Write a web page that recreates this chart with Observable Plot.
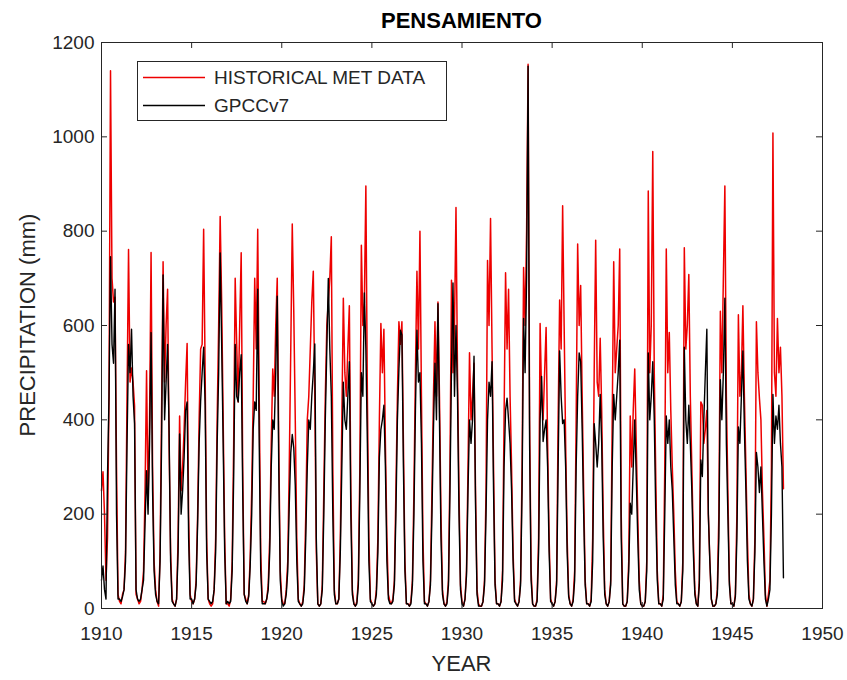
<!DOCTYPE html>
<html><head><meta charset="utf-8">
<script src="https://cdn.jsdelivr.net/npm/d3@7"></script>
<script src="https://cdn.jsdelivr.net/npm/@observablehq/plot@0.6"></script>
<style>html,body{margin:0;padding:0;background:#fff;} svg{display:block;}</style>
</head><body><div id="chart"></div>
<script>
const title = "PENSAMIENTO";
const xLabel = "YEAR";
const yLabel = "PRECIPITATION (mm)";
const seriesNames = ["HISTORICAL MET DATA", "GPCCv7"];
const seriesColors = ["#ee0000", "#000000"];
const xTicks = [1910, 1915, 1920, 1925, 1930, 1935, 1940, 1945, 1950];
const yTicks = [0, 200, 400, 600, 800, 1000, 1200];
const startYear = 1910; // monthly values, Jan 1910 onwards

const historical = [
  250,290,200,60,150,450,1140,700,650,660,300,30,      // 1910
  15,10,30,40,120,450,761,480,510,480,430,30,          // 1911
  20,10,15,40,80,250,504,223,400,755,300,100,          // 1912
  40,15,5,120,420,735,480,600,677,350,120,20,          // 1913
  10,5,20,150,408,250,300,380,480,562,200,30,          // 1914
  15,10,20,60,200,400,550,560,804,500,150,20,          // 1915
  10,5,10,40,150,400,600,831,650,400,150,10,           // 1916
  10,5,20,100,350,700,560,438,600,754,300,30,          // 1917
  20,10,30,108,250,450,700,550,804,450,120,15,         // 1918
  15,10,20,50,150,350,508,450,600,700,350,80,          // 1919
  20,10,10,40,100,300,550,815,630,400,150,20,          // 1920
  10,5,15,50,200,400,450,550,650,715,450,120,          // 1921
  10,5,10,50,250,450,600,650,700,788,300,40,           // 1922
  10,10,20,150,400,658,500,450,550,642,250,40,         // 1923
  10,5,15,60,300,770,600,650,896,450,150,20,           // 1924
  10,5,10,40,150,400,604,500,592,350,150,30,           // 1925
  15,10,20,60,250,450,608,560,608,350,100,10,          // 1926
  10,5,15,60,250,500,715,550,800,450,150,15,           // 1927
  10,5,15,60,250,450,608,450,650,450,200,40,           // 1928
  10,5,15,60,300,696,500,600,850,500,250,50,           // 1929
  15,5,20,80,300,542,400,450,520,250,40,10,            // 1930
  5,5,15,60,250,738,600,827,550,300,60,10,             // 1931
  10,5,15,80,400,712,550,677,450,300,120,20,           // 1932
  10,5,15,60,300,723,600,800,1154,400,80,10,           // 1933
  5,5,20,150,604,450,400,500,596,350,150,20,           // 1934
  10,5,15,60,400,654,550,854,600,350,150,30,           // 1935
  10,5,20,80,400,773,600,685,450,250,60,10,            // 1936
  10,5,20,150,500,781,480,450,573,420,200,40,          // 1937
  10,5,15,60,400,735,500,550,600,762,200,10,           // 1938
  5,5,15,100,408,300,420,508,350,200,60,10,            // 1939
  5,5,15,100,885,500,600,969,500,280,80,10,            // 1940
  10,5,30,300,762,500,585,420,300,200,80,15,           // 1941
  10,5,15,100,765,550,600,708,450,300,150,40,          // 1942
  10,5,60,438,431,350,380,420,200,100,20,5,            // 1943
  5,10,40,200,630,500,700,896,450,250,60,10,           // 1944
  10,5,30,200,623,450,500,642,450,300,150,30,          // 1945
  10,5,20,150,608,500,446,400,250,150,30,5,            // 1946
  30,60,300,1008,500,450,615,500,554,450,254           // 1947
];

const gpcc = [
  60,90,40,20,280,450,746,560,520,677,200,20,          // 1910
  20,15,25,40,100,350,560,500,592,450,392,40,          // 1911
  20,15,20,40,60,180,292,200,350,585,250,80,           // 1912
  30,15,10,100,350,707,400,480,560,377,100,15,         // 1913
  10,5,20,120,370,200,250,320,420,438,150,20,          // 1914
  20,10,20,50,180,350,440,500,554,430,120,20,          // 1915
  15,10,15,40,120,350,500,754,560,350,120,10,          // 1916
  15,10,15,80,280,560,450,438,500,538,250,30,          // 1917
  15,10,25,90,200,380,438,420,677,350,80,10,           // 1918
  10,10,20,40,120,300,400,380,500,662,300,60,          // 1919
  15,5,10,30,80,220,330,369,340,260,100,15,            // 1920
  10,5,10,40,150,300,400,380,450,500,561,150,          // 1921
  10,5,10,40,200,400,550,700,550,450,200,30,           // 1922
  10,10,20,120,300,480,400,380,450,523,200,30,         // 1923
  10,5,10,50,250,500,450,669,550,350,100,15,           // 1924
  10,5,10,30,120,320,380,400,431,300,100,20,           // 1925
  10,10,15,50,200,400,508,590,580,300,80,10,           // 1926
  10,5,10,50,200,420,590,480,500,350,100,10,           // 1927
  10,5,15,50,200,380,520,400,646,400,150,30,           // 1928
  10,5,10,50,250,508,690,450,600,450,200,40,           // 1929
  10,5,20,70,250,400,350,400,535,220,30,5,             // 1930
  5,5,15,50,200,400,480,450,523,250,50,10,             // 1931
  10,5,15,60,300,420,446,400,350,250,100,15,           // 1932
  10,5,15,50,250,615,500,700,1150,350,60,10,           // 1933
  5,5,15,120,400,492,354,380,400,300,120,15,           // 1934
  10,5,15,50,300,546,450,392,400,300,120,25,           // 1935
  10,5,15,60,300,450,542,523,380,200,50,10,            // 1936
  10,5,15,100,392,350,300,350,454,350,150,30,          // 1937
  10,5,15,50,300,454,400,450,500,569,150,10,           // 1938
  5,5,15,80,223,200,300,400,280,150,40,10,             // 1939
  5,5,15,80,542,400,450,523,400,200,60,10,             // 1940
  10,5,20,200,408,350,400,300,250,150,50,10,           // 1941
  10,5,15,80,554,400,350,431,350,250,120,30,           // 1942
  10,5,50,315,280,400,500,592,200,100,20,5,            // 1943
  5,10,30,150,485,400,500,658,350,200,50,10,           // 1944
  10,5,25,150,385,350,450,546,380,250,100,20,          // 1945
  10,5,20,120,331,300,246,300,200,100,20,5,            // 1946
  20,40,200,454,350,408,380,431,350,300,65             // 1947
];

const rows = [];
historical.forEach((v, i) => rows.push({series: seriesNames[0], t: startYear + i / 12, v}));
gpcc.forEach((v, i) => rows.push({series: seriesNames[1], t: startYear + i / 12, v}));

const W = 847, H = 680, mL = 101, mR = 25, mT = 42, mB = 72;
const ink = "#262626";
const font = "'Liberation Sans', Arial, Helvetica, sans-serif";
const frameH = H - mT - mB, frameW = W - mL - mR, tick = 6;

const svg = Plot.plot({
  width: W, height: H,
  marginLeft: mL, marginRight: mR, marginTop: mT, marginBottom: mB,
  style: {fontFamily: font, fontSize: "19px", color: ink, background: "#fff", overflow: "visible"},
  x: {domain: [1910, 1950]},
  y: {domain: [0, 1200]},
  marks: [
    Plot.lineY(rows.filter(d => d.series === seriesNames[0]), {x: "t", y: "v", stroke: seriesColors[0], strokeWidth: 1.5}),
    Plot.lineY(rows.filter(d => d.series === seriesNames[1]), {x: "t", y: "v", stroke: seriesColors[1], strokeWidth: 1.4}),
    Plot.frame({stroke: ink, strokeWidth: 1}),
    Plot.tickX(xTicks, {x: d => d, stroke: ink, insetTop: frameH - tick}),
    Plot.tickX(xTicks, {x: d => d, stroke: ink, insetBottom: frameH - tick}),
    Plot.tickY(yTicks, {y: d => d, stroke: ink, insetRight: frameW - tick}),
    Plot.tickY(yTicks, {y: d => d, stroke: ink, insetLeft: frameW - tick}),
    Plot.axisX(xTicks, {anchor: "bottom", tickSize: 0, tickPadding: 18, tickFormat: d => String(d), label: null, fontSize: 19, fill: ink}),
    Plot.axisY(yTicks, {anchor: "left", tickSize: 0, tickPadding: 7, tickFormat: d => String(d), label: null, fontSize: 19, fill: ink})
  ]
});

const s = d3.select(svg);
s.append("text").attr("x", mL + frameW / 2).attr("y", 28).attr("text-anchor", "middle")
  .attr("font-family", font).attr("font-size", 22).attr("font-weight", "bold").attr("fill", "#000").text(title);
s.append("text").attr("x", mL + frameW / 2).attr("y", 671).attr("text-anchor", "middle")
  .attr("font-family", font).attr("font-size", 22).attr("fill", ink).text(xLabel);
s.append("text").attr("transform", `translate(35,${mT + frameH / 2}) rotate(-90)`).attr("text-anchor", "middle")
  .attr("font-family", font).attr("font-size", 22).attr("fill", ink).text(yLabel);

// legend
const lg = s.append("g");
lg.append("rect").attr("x", 137.5).attr("y", 61.5).attr("width", 309).attr("height", 59)
  .attr("fill", "#fff").attr("stroke", ink).attr("stroke-width", 1);
seriesNames.forEach((name, i) => {
  const y = [77.5, 105.5][i];
  lg.append("line").attr("x1", 143).attr("x2", 205).attr("y1", y).attr("y2", y)
    .attr("stroke", seriesColors[i]).attr("stroke-width", 1.4);
  lg.append("text").attr("x", 214).attr("y", y).attr("dy", "0.36em").attr("text-anchor", "start")
    .attr("font-family", font).attr("font-size", 19).attr("fill", ink).text(name);
});

document.getElementById("chart").appendChild(svg);
</script>
</body></html>
